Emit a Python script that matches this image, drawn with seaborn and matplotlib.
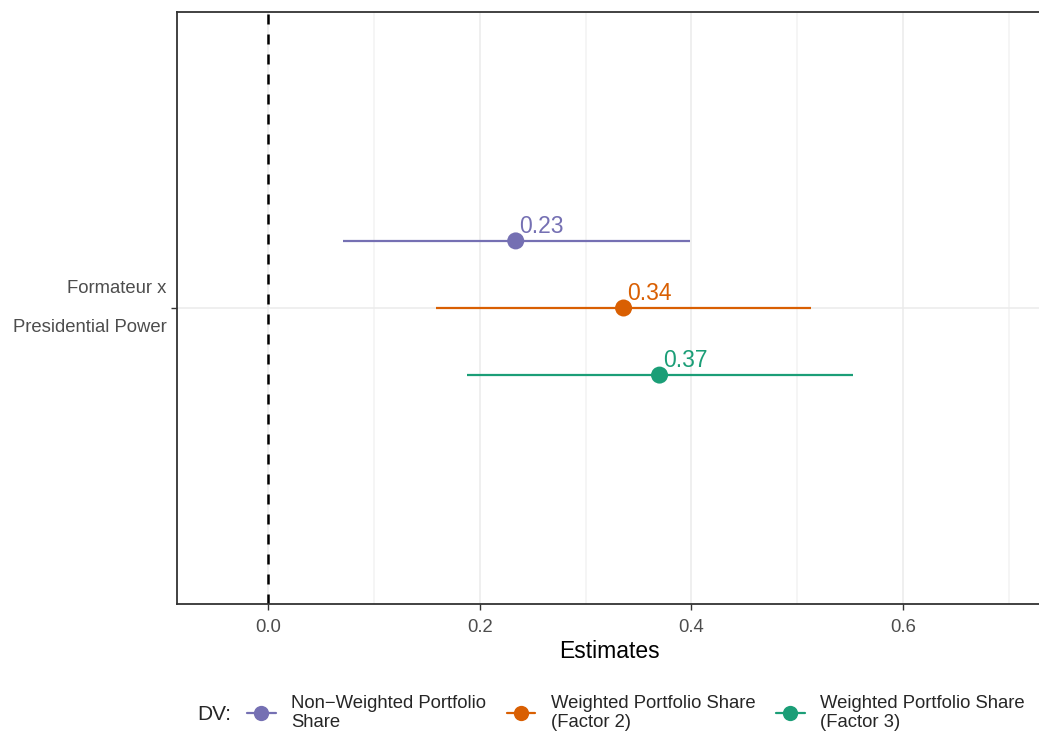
import numpy as np
import pandas as pd
import matplotlib.pyplot as plt
import seaborn as sns
from matplotlib.lines import Line2D

sns.set_theme(style="white")
plt.rcParams['font.family'] = ['Liberation Sans', 'DejaVu Sans']

# data
models = ["Non\u2212Weighted Portfolio\nShare",
          "Weighted Portfolio Share\n(Factor 2)",
          "Weighted Portfolio Share\n(Factor 3)"]
estimates = [0.234, 0.336, 0.370]
lower = [0.071, 0.159, 0.188]
upper = [0.399, 0.513, 0.553]
labels = ["0.23", "0.34", "0.37"]
term = "Formateur x\nPresidential Power"
colors = ["#7570B3", "#D95F02", "#1B9E77"]

offsets = [0.136, 0.0, -0.136]
df = pd.DataFrame({"model": models, "estimate": estimates, "lower": lower,
                   "upper": upper, "y": [1 + o for o in offsets]})

fig = plt.figure(figsize=(10.39, 7.36), dpi=100)
ax = fig.add_axes([177 / 1039, 1 - 604 / 736, 1 - 177 / 1039 + 0.002, (604 - 12) / 736])

# grid
for x in [0.0, 0.2, 0.4, 0.6]:
    ax.axvline(x, color="#EBEBEB", lw=1.1, zorder=0)
for x in [0.1, 0.3, 0.5, 0.7]:
    ax.axvline(x, color="#F2F2F2", lw=1.1, zorder=0)
ax.axhline(1, color="#EBEBEB", lw=1.1, zorder=0)

ax.axvline(0, color="black", lw=1.8, ls=(0, (4, 4)), zorder=1)

for i, r in df.iterrows():
    ax.hlines(r["y"], r["lower"], r["upper"], color=colors[i], lw=1.6, zorder=2)
sns.scatterplot(data=df, x="estimate", y="y", hue="model", palette=colors,
                s=150, edgecolor="none", legend=False, zorder=3, ax=ax)
for i, r in df.iterrows():
    ax.text(r["estimate"] + 0.003, r["y"] + 0.006, labels[i], color=colors[i],
            fontsize=16.5, ha="left", va="bottom")

ax.set_xlim(-0.0863, 0.7308)
ax.set_ylim(0.4, 1.6)
ax.set_xticks([0.0, 0.2, 0.4, 0.6])
ax.set_xticklabels(["0.0", "0.2", "0.4", "0.6"])
ax.set_yticks([1])
ax.set_yticklabels([term])
for t in ax.get_yticklabels():
    t.set_linespacing(2.65)
    t.set_va("center")
ax.tick_params(axis="both", colors="#333333", labelcolor="#4D4D4D", labelsize=13.3,
               length=4, width=1, direction="out", bottom=True, left=True)
ax.tick_params(axis="x", pad=7)
ax.set_xlabel("Estimates", fontsize=16.5, color="black", labelpad=3)
ax.set_ylabel("")
for side in ["left", "bottom", "top"]:
    ax.spines[side].set_color("#333333")
    ax.spines[side].set_linewidth(1.3)
ax.spines["right"].set_visible(False)

# legend
handles = [Line2D([0], [0], color=c, lw=1.6, marker="o", markersize=11,
                  markeredgewidth=0) for c in colors]
fig.text(197 / 1039, 1 - 715 / 736, "DV:", fontsize=15, ha="left", va="center")
leg = fig.legend(handles, models, loc="center left", bbox_to_anchor=(247 / 1039, 1 - 713 / 736),
                 ncol=3, frameon=False, fontsize=13.3, handlelength=1.55, handletextpad=0.85,
                 columnspacing=1.1, borderpad=0, borderaxespad=0)
for t in leg.get_texts():
    t.set_linespacing(1.08)

fig.savefig("out.png", dpi=100)
